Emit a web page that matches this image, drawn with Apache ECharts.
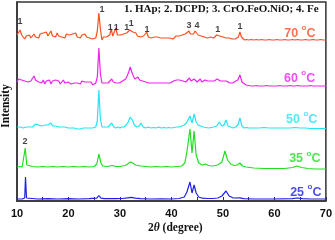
<!DOCTYPE html>
<html><head><meta charset="utf-8">
<script src="https://cdn.jsdelivr.net/npm/echarts@6/dist/echarts.min.js"></script>
<style>html,body{margin:0;padding:0;background:#fff}#c{width:335px;height:240px}</style>
</head><body><div id="c"></div>
<script>
// 2θ (degree) vs relative intensity (baseline = 0) for each temperature
const xrd70 = [[10,2],[10.3,3],[10.6,7],[10.9,2],[11.2,0],[11.5,-2],[11.8,1],[12.1,-1],[12.4,2],[12.7,-1],[13,1],[13.3,3],[13.6,0],[13.9,2],[14.2,-1],[14.5,3],[14.8,1],[15.1,4],[15.4,2],[15.7,5],[16,1],[16.3,3],[16.6,6],[16.9,1],[17.2,3],[17.5,0],[17.8,4],[18.1,1],[18.4,3],[18.7,0],[19,2],[19.3,-1],[19.6,3],[19.9,1],[20.2,2],[20.5,0],[20.8,3],[21.1,1],[21.4,4],[21.7,0],[22,2],[22.3,-1],[22.6,2],[22.9,0],[23.2,3],[23.5,0],[23.8,1],[24.1,-1],[24.4,1],[24.7,-2],[25,0],[25.3,-1],[25.6,6],[25.9,24],[26.2,8],[26.5,-3],[26.8,0],[27.1,2],[27.4,0],[27.7,1],[28,2],[28.3,8],[28.6,1],[28.9,2],[29.2,9],[29.5,2],[29.8,0],[30.1,2],[30.4,1],[30.7,3],[31,1],[31.3,4],[31.6,5],[31.9,7],[32.2,8],[32.5,5],[32.8,3],[33.1,4],[33.4,1],[33.7,2],[34,0],[34.3,2],[34.6,1],[34.9,3],[35.2,5],[35.5,0],[35.8,1],[36.1,-1],[36.4,1],[36.7,0],[37,2],[37.3,0],[37.6,1],[37.9,-1],[38.2,1],[38.5,-1],[38.8,0],[39.1,-1],[39.4,1],[39.7,-1],[40,0],[40.3,-2],[40.6,0],[40.9,1],[41.2,-1],[41.5,1],[41.8,0],[42.1,2],[42.4,1],[42.7,3],[43,4],[43.4,6],[43.7,3],[44,4],[44.3,3],[44.6,6],[44.9,4],[45.2,2],[45.5,3],[45.8,1],[46.1,2],[46.4,0],[46.7,1],[47,-1],[47.3,1],[47.6,0],[47.9,1],[48.2,-1],[48.5,1],[48.8,2],[49.1,4],[49.4,1],[49.7,2],[50,0],[50.3,1],[50.6,-1],[50.9,0],[51.2,-1],[51.5,0],[51.8,-2],[52.1,-1],[52.4,-2],[52.7,-1],[53,0],[53.3,5],[53.6,0],[53.9,-2],[54.2,-3],[54.6,-2.5],[55,-3],[55.5,-2.5],[56,-3],[56.5,-2.5],[57,-3],[57.5,-2.5],[58,-3],[58.5,-3],[59,-2.5],[59.5,-3],[60,-3],[60.5,-2.5],[61,-3],[61.5,-3],[62,-2.5],[62.5,-3],[63,-3],[63.5,-2.5],[64,-3],[64.5,-2.5],[65,-3],[65.5,-3],[66,-2.5],[66.5,-3],[67,-3],[67.5,-2.5],[68,-3],[68.5,-3],[69,-2.5],[69.5,-3],[70,-3]];
const xrd60 = [[10,1],[10.3,4],[10.6,6],[10.9,3],[11.2,5],[11.5,2],[11.8,4],[12.1,1],[12.4,3],[12.7,2],[13,4],[13.3,7],[13.6,3],[13.9,5],[14.2,1],[14.5,3],[14.8,0],[15.1,3],[15.4,-1],[15.7,2],[16,0],[16.3,3],[16.6,-1],[16.9,2],[17.2,0],[17.5,3],[17.8,1],[18.1,2],[18.4,-1],[18.7,1],[19,3],[19.3,0],[19.6,2],[19.9,1],[20.2,2],[20.5,-1],[20.8,1],[21.1,0],[21.4,2],[21.7,0],[22,1],[22.3,-1],[22.6,2],[22.9,0],[23.2,1],[23.5,-1],[23.8,1],[24.1,0],[24.4,1],[24.7,-2],[25,0],[25.3,0],[25.6,6],[25.9,35],[26.2,9],[26.5,0],[26.8,1],[27.1,0],[27.4,1],[27.7,0],[28,2],[28.4,4],[28.7,1],[29,1],[29.3,0],[29.6,1],[29.9,0],[30.2,1],[30.5,2],[30.8,3],[31.1,4],[31.4,7],[31.7,11],[32,16],[32.3,11],[32.6,7],[32.9,4],[33.2,3],[33.5,6],[33.8,3],[34.1,4],[34.4,2],[34.7,4],[35,1],[35.3,2],[35.6,0],[35.9,1],[36.2,0],[36.5,1],[36.8,0],[37.1,1],[37.4,0],[37.7,1],[38,0],[38.3,1],[38.6,0],[38.9,1],[39.2,0],[39.5,1],[39.8,0],[40.1,1],[40.4,2],[40.7,1],[41,3],[41.3,1],[41.6,3],[41.9,1],[42.2,2],[42.5,3],[42.8,1],[43.1,3],[43.5,5],[43.8,2],[44.1,3],[44.4,4],[44.7,2],[45,1],[45.3,3],[45.6,4],[45.9,1],[46.2,2],[46.5,3],[46.8,1],[47.1,2],[47.4,1],[47.7,2],[48,1],[48.3,2],[48.6,3],[48.9,4],[49.2,6],[49.5,2],[49.8,1],[50.1,2],[50.4,1],[50.7,2],[51,1],[51.3,0],[51.6,1],[51.9,0],[52.2,1],[52.5,2],[52.9,3],[53.3,8],[53.7,1],[54,-1],[54.5,-2],[55,-2.5],[55.5,-3],[56,-3],[56.5,-2.5],[57,-3],[57.5,-3],[58,-3],[58.5,-2.5],[59,-3],[59.5,-3],[60,-3],[60.5,-3],[61,-2.5],[61.5,-3],[62,-3],[62.5,-3],[63,-2.5],[63.5,-3],[64,-3],[64.5,-2.5],[65,-3],[65.5,-3],[66,-3],[66.5,-3],[67,-2.5],[67.5,-3],[68,-3],[68.5,-3],[69,-3],[69.5,-3],[70,-3]];
const xrd50 = [[10,1],[10.3,3],[10.6,1],[10.9,2],[11.2,0],[11.5,2],[11.8,1],[12.1,3],[12.4,1],[12.7,2],[13,1],[13.3,3],[13.6,4],[13.9,2],[14.2,3],[14.5,1],[14.8,2],[15.1,1],[15.4,3],[15.7,2],[16,3],[16.3,4],[16.6,5],[16.9,2],[17.2,3],[17.5,2],[17.8,3],[18.1,1],[18.4,2],[18.7,1],[19,2],[19.3,1],[19.6,2],[19.9,0],[20.2,1],[20.5,0],[20.8,1],[21.1,0],[21.4,1],[21.7,-1],[22,0],[22.3,-1],[22.6,1],[22.9,0],[23.2,1],[23.5,0],[23.8,1],[24.1,0],[24.4,1],[24.7,0],[25,1],[25.3,1],[25.6,7],[25.9,38],[26.2,9],[26.5,1],[26.8,0],[27.1,1],[27.4,0],[27.7,1],[28,2],[28.4,5],[28.8,1],[29.2,0],[29.6,1],[30,0],[30.4,1],[30.8,1],[31.2,3],[31.6,6],[32,11],[32.4,8],[32.8,3],[33.2,1],[33.7,2],[34.1,5],[34.5,1],[35,0],[35.5,1],[36,0],[36.5,0.5],[37,0],[37.5,1],[38,0],[38.5,0.5],[39,0],[39.5,0.5],[40,0],[40.5,0.5],[41,1],[41.5,1],[42,2],[42.5,3],[42.9,5],[43.2,8],[43.6,12],[44,5],[44.4,14],[44.8,6],[45.2,3],[45.7,2],[46.2,1],[46.7,0.5],[47.2,0],[47.7,0.5],[48.2,1],[48.8,2],[49.3,6],[49.8,2],[50.2,3],[50.6,8],[51,2],[51.5,1],[52,0],[52.5,1],[53,4],[53.3,10],[53.7,2],[54.1,0],[54.6,0.5],[55,0],[56,0],[57,0],[58,0.5],[59,0],[60,0],[61,0],[62,0],[63,0],[64,0.5],[65,0],[66,0],[67,-0.5],[68,-0.5],[69,-0.5],[70,-0.5]];
const xrd35 = [[10,0],[10.5,0.5],[11,0],[11.3,2],[11.6,19],[11.9,2],[12.2,0],[13,0.5],[14,0],[15,0.5],[16,0],[17,0.5],[18,0],[19,0.5],[20,0],[21,0.5],[22,0],[23,0.5],[24,0],[25,0.5],[25.5,3],[25.9,13],[26.3,4],[26.7,1],[27.5,0.5],[28.5,1.5],[29.2,0.5],[30,0.5],[31,1.5],[31.5,3],[32,5],[32.5,4],[33,2],[34,1],[35,0.5],[36,0],[37,0.5],[38,0],[39,0.5],[40,0],[41,0.5],[42,1],[42.6,4],[43,15],[43.6,38],[44,14],[44.4,36],[44.8,12],[45.3,4],[46,2],[46.6,3],[47.2,1.5],[48,1],[49,2],[49.8,5],[50.4,16],[50.9,7],[51.5,3],[52.2,1.5],[52.8,2],[53.3,4],[53.8,1],[54.5,0],[56,-1],[58,-1.5],[60,-1.5],[62,-1.5],[63.5,-0.5],[64.4,1],[65.3,-0.5],[66.5,-1.5],[68,-2],[70,-2]];
const xrd25 = [[10,0],[11,0],[11.5,1],[11.65,22],[11.85,1],[12.2,0],[14,0],[16,0.3],[18,0],[20,0.3],[22,0],[24,0.3],[25.5,0.8],[25.9,3.5],[26.3,0.8],[27,0.3],[29,0.3],[30.5,0.5],[31.5,1.2],[32.2,1.6],[33,0.8],[34,0.3],[36,0],[38,0.2],[40,0],[41.5,0.5],[42.5,2],[43,7],[43.6,17],[44,6],[44.4,14],[44.8,6],[45.3,2],[46,0.8],[47,0.5],[48,0.5],[49,1],[49.8,3],[50.6,8],[51.2,3],[52,1],[53.3,1.2],[54,0.3],[56,0],[60,0],[63.5,0.3],[64.4,1],[65.5,0.3],[67,0],[70,0]];
const offsets = [164, 118, 73, 34, 2];
const seriesData = [xrd70, xrd60, xrd50, xrd35, xrd25];
const colors = ['#FF4E1F', '#EE22EE', '#22E5F5', '#22DD22', '#2020EE'];
const tempNames = ['70', '60', '50', '35', '25'];
const tempLabelPos = [[64.95, 169], [64.9, 124], [65.3, 83], [65.9, 43.5], [66.1, 10]];
// peak annotations: [2θ, height, text]
const peakLabels = [[10.6,179,'1'],[26.5,191,'1'],[28.1,173,'1'],[29.3,173,'1'],[31.3,173,'1'],[32.2,177,'1'],[35.25,171,'1'],[43.4,175,'3'],[44.95,175,'4'],[49.0,171,'1'],[53.3,174,'1'],[11.55,59,'2']];
const xTicks = [10, 20, 30, 40, 50, 60, 70];

const chart = echarts.init(document.getElementById('c'), null, {renderer: 'canvas'});
const series = seriesData.map((d, i) => ({
  type: 'line', name: tempNames[i], data: d.map(p => [p[0], p[1] + offsets[i]]),
  symbol: 'none', lineStyle: {color: colors[i], width: 1.2}, z: 2, animation: false
}));
series.push({
  type: 'scatter', symbolSize: 1, itemStyle: {color: 'rgba(0,0,0,0)'}, z: 5, animation: false,
  data: peakLabels.map(p => ({value: [p[0], p[1]], name: p[2]})),
  label: {show: true, position: 'inside', formatter: '{b}', color: '#111', fontSize: 9, fontWeight: 'bold', fontFamily: 'Liberation Sans'}
});
series.push({
  type: 'scatter', symbolSize: 1, itemStyle: {color: 'rgba(0,0,0,0)'}, z: 5, animation: false,
  data: tempLabelPos.map((p, i) => ({value: p, name: tempNames[i],
    label: {color: colors[i], rich: {a: {color: colors[i], fontSize: 12.5, fontWeight: 'bold', fontFamily: 'Liberation Sans', lineHeight: 16, verticalAlign: 'bottom'}, b: {color: colors[i], fontSize: 8, fontWeight: 'bold', fontFamily: 'Liberation Sans', verticalAlign: 'top', lineHeight: 16}}}})),
  label: {show: true, position: 'inside', formatter: p => '{a|' + p.name + ' }{b|o}{a|C}'}
});
chart.setOption({
  animation: false,
  backgroundColor: '#fff',
  grid: {left: 17, right: 9, top: 2, bottom: 39, show: true, borderColor: '#333', borderWidth: 1.5, backgroundColor: 'transparent'},
  xAxis: {type: 'value', min: 10, max: 70, interval: 5,
    axisLine: {show: true, lineStyle: {color: '#333', width: 1.5}},
    axisTick: {show: true, inside: true, length: 4, lineStyle: {color: '#333', width: 1}},
    axisLabel: {color: '#111', fontSize: 11, fontWeight: 'bold', fontFamily: 'Liberation Sans', margin: 7,
      formatter: v => xTicks.indexOf(v) >= 0 ? String(v) : ''},
    splitLine: {show: false}},
  yAxis: {type: 'value', min: 0, max: 199,
    axisLine: {show: true, lineStyle: {color: '#333', width: 1.5}},
    axisTick: {show: false}, axisLabel: {show: false}, splitLine: {show: false}},
  graphic: [
    {type: 'text', left: 124, top: 4, style: {text: '1. HAp; 2. DCPD; 3. CrO.FeO.NiO; 4. Fe', font: 'bold 11px "Liberation Serif"', fill: '#111'}},
    {type: 'text', left: 148, top: 222, style: {rich: {n: {font: 'bold 11.5px "Liberation Serif"', fill: '#111'}, t: {font: 'italic bold 11.5px "Liberation Serif"', fill: '#111'}}, text: '{n|2}{t|θ}{n| (degree)}'}},
    {type: 'text', x: 6, y: 106, rotation: Math.PI / 2, style: {text: 'Intensity', font: 'bold 11.5px "Liberation Serif"', fill: '#111', align: 'center', verticalAlign: 'middle'}}
  ],
  series: series
});
</script></body></html>
